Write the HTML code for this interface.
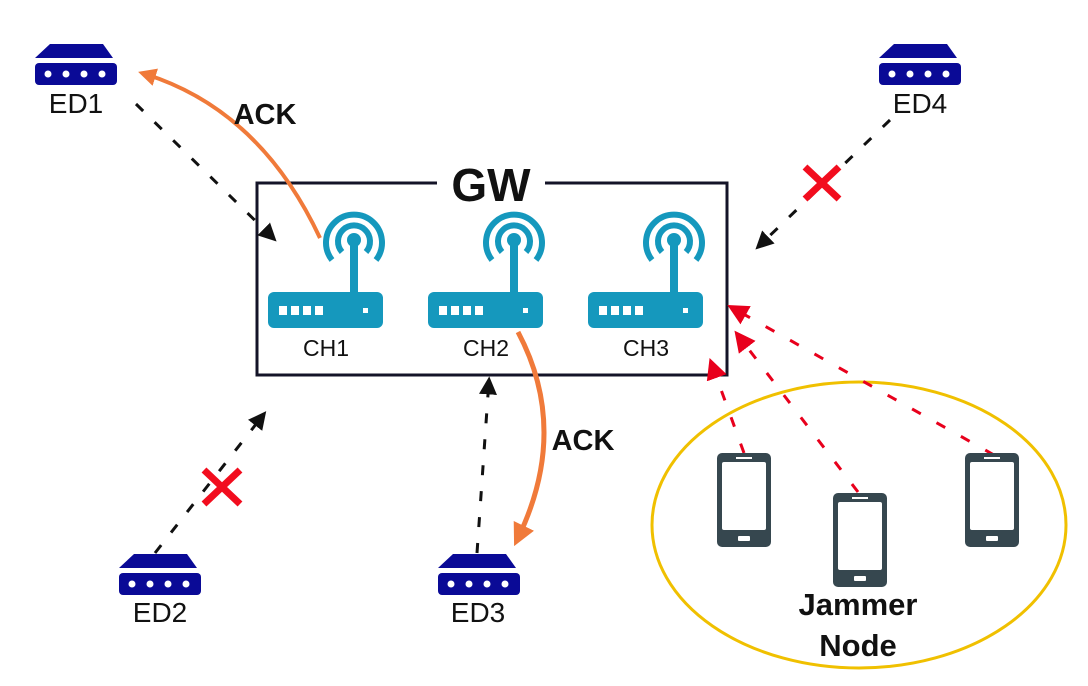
<!DOCTYPE html>
<html><head><meta charset="utf-8"><style>
html,body{margin:0;padding:0;background:#fff;}
svg{display:block;}
text{font-family:"Liberation Sans","DejaVu Sans",sans-serif;}
</style></head><body>
<svg width="1088" height="686" viewBox="0 0 1088 686" xmlns="http://www.w3.org/2000/svg">
<defs>
<marker id="ab" viewBox="0 0 10 10" refX="8" refY="5" markerWidth="6" markerHeight="6" orient="auto"><path d="M0,0 L10,5 L0,10 z" fill="#111"/></marker>
<marker id="ar" viewBox="0 0 10 10" refX="8" refY="5" markerWidth="7" markerHeight="7" orient="auto"><path d="M0,0 L10,5 L0,10 z" fill="#e8001c"/></marker>
<marker id="ao" viewBox="0 0 10 10" refX="6" refY="5" markerWidth="4.5" markerHeight="4.5" orient="auto"><path d="M0,0 L10,5 L0,10 z" fill="#f07a3a"/></marker>
<g id="ed">
<path d="M15,0 L68,0 L78,14 L0,14 z" fill="#0a0a96"/>
<rect x="0" y="19" width="82" height="22" rx="4" fill="#0a0a96"/>
<circle cx="13" cy="30" r="3.5" fill="#fff"/><circle cx="31" cy="30" r="3.5" fill="#fff"/><circle cx="49" cy="30" r="3.5" fill="#fff"/><circle cx="67" cy="30" r="3.5" fill="#fff"/>
</g>
<g id="rt">
<rect x="0" y="52" width="115" height="36" rx="6" fill="#1598bd"/>
<rect x="11" y="66" width="8" height="9" fill="#fff"/><rect x="23" y="66" width="8" height="9" fill="#fff"/><rect x="35" y="66" width="8" height="9" fill="#fff"/><rect x="47" y="66" width="8" height="9" fill="#fff"/>
<rect x="95" y="68" width="5" height="5" fill="#fff"/>
<rect x="82" y="0" width="8" height="54" fill="#1598bd"/>
<circle cx="86" cy="0" r="7" fill="#1598bd"/>
<path d="M74,12 A16,16 0 1 1 98,12" fill="none" stroke="#1598bd" stroke-width="6"/>
<path d="M64,20 A28,28 0 1 1 108,20" fill="none" stroke="#1598bd" stroke-width="6"/>
</g>
<g id="ph">
<rect x="0" y="0" width="54" height="94" rx="5" fill="#36474f"/>
<rect x="5" y="9" width="44" height="68" rx="2" fill="#fff"/>
<rect x="19" y="4" width="16" height="2" fill="#fff"/>
<rect x="21" y="83" width="12" height="5" rx="1" fill="#fff"/>
</g>
</defs>

<path d="M437,183 L257,183 L257,375 L727,375 L727,183 L545,183" fill="none" stroke="#141428" stroke-width="3"/>
<text x="491" y="201" font-size="46" font-weight="bold" text-anchor="middle" fill="#111">GW</text>

<use href="#rt" x="268" y="240"/>
<use href="#rt" x="428" y="240"/>
<use href="#rt" x="588" y="240"/>
<text x="326" y="356" font-size="23" text-anchor="middle" fill="#111">CH1</text>
<text x="486" y="356" font-size="23" text-anchor="middle" fill="#111">CH2</text>
<text x="646" y="356" font-size="23" text-anchor="middle" fill="#111">CH3</text>

<use href="#ed" x="35" y="44"/>
<text x="76" y="113" font-size="28" text-anchor="middle" fill="#111">ED1</text>
<use href="#ed" x="879" y="44"/>
<text x="920" y="113" font-size="28" text-anchor="middle" fill="#111">ED4</text>
<use href="#ed" x="119" y="554"/>
<text x="160" y="622" font-size="28" text-anchor="middle" fill="#111">ED2</text>
<use href="#ed" x="438" y="554"/>
<text x="478" y="622" font-size="28" text-anchor="middle" fill="#111">ED3</text>

<g stroke="#111" stroke-width="3" stroke-dasharray="10,16" fill="none">
<path d="M136,104 L274,239" marker-end="url(#ab)"/>
<path d="M890,120 L758,247" marker-end="url(#ab)"/>
<path d="M155,553 L264,414" marker-end="url(#ab)"/>
<path d="M477,553 L489,380" marker-end="url(#ab)"/>
</g>

<path d="M320,238 Q260,110 145,74" fill="none" stroke="#f07a3a" stroke-width="4" marker-end="url(#ao)"/>
<path d="M518,332 Q570,430 518,538" fill="none" stroke="#f07a3a" stroke-width="5" marker-end="url(#ao)"/>
<text x="265" y="124" font-size="29" font-weight="bold" text-anchor="middle" fill="#111">ACK</text>
<text x="583" y="450" font-size="29" font-weight="bold" text-anchor="middle" fill="#111">ACK</text>

<g stroke="#f20d1e" stroke-width="7">
<path d="M805,167 L839,199 M839,167 L805,199"/>
<path d="M204,470 L240,504 M240,470 L204,504"/>
</g>

<ellipse cx="859" cy="525" rx="207" ry="143" fill="none" stroke="#f0c000" stroke-width="3"/>

<g stroke="#e8001c" stroke-width="3" stroke-dasharray="10,18" fill="none">
<path d="M744,453 L711,362" marker-end="url(#ar)"/>
<path d="M858,492 L737,334" marker-end="url(#ar)"/>
<path d="M994,455 L731,307" marker-end="url(#ar)"/>
</g>

<use href="#ph" x="717" y="453"/>
<use href="#ph" x="833" y="493"/>
<use href="#ph" x="965" y="453"/>
<text x="858" y="615" font-size="31" font-weight="bold" text-anchor="middle" fill="#111">Jammer</text>
<text x="858" y="656" font-size="31" font-weight="bold" text-anchor="middle" fill="#111">Node</text>
</svg>
</body></html>
